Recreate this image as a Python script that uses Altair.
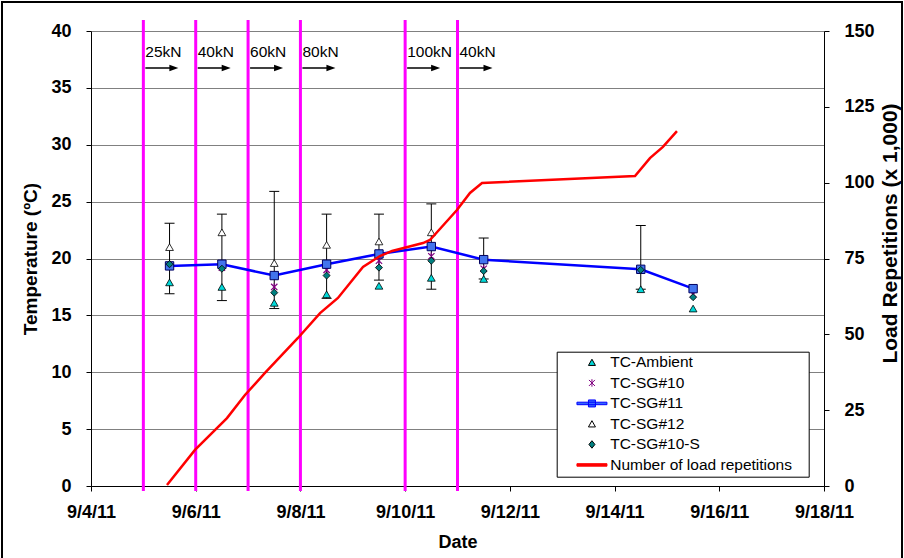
import altair as alt
import pandas as pd

# ---------------- data ----------------
obs_dates = ["2011-09-05T12:00", "2011-09-06T12:00", "2011-09-07T12:00", "2011-09-08T12:00",
             "2011-09-09T12:00", "2011-09-10T12:00", "2011-09-11T12:00", "2011-09-14T12:00",
             "2011-09-15T12:00"]
tc_ambient = [17.9, 17.5, 16.1, 16.85, 17.6, 18.3, 18.2, 17.3, 15.6]
tc_sg10 = [None, 19.2, 17.5, 19.0, 19.8, 20.2, 19.1, None, 16.85]
tc_sg11 = [19.35, 19.5, 18.5, 19.5, 20.4, 21.05, 19.9, 19.05, 17.35]
tc_sg12 = [21.0, 22.3, 19.6, 21.2, 21.5, 22.3, None, None, None]
tc_sg10s = [19.5, 19.1, 17.0, 18.5, 19.2, 19.8, 18.9, 19.0, 16.6]
err_hi = [23.1, 23.9, 25.9, 23.9, 23.9, 24.8, 21.8, 22.9, None]
err_lo = [16.9, 16.3, 15.6, 16.5, 18.1, 17.3, 18.2, 17.3, None]

load_dates = ["2011-09-05T10:50", "2011-09-05T23:40", "2011-09-06T14:20", "2011-09-06T22:35",
              "2011-09-07T07:45", "2011-09-07T22:52", "2011-09-08T09:00", "2011-09-08T17:12",
              "2011-09-09T04:40", "2011-09-09T12:27", "2011-09-09T18:00", "2011-09-10T08:11",
              "2011-09-10T11:23", "2011-09-10T23:45", "2011-09-11T05:43", "2011-09-11T11:14",
              "2011-09-14T09:22", "2011-09-14T16:13", "2011-09-14T22:10", "2011-09-15T04:36"]
load_reps = [0.3, 11.9, 22.4, 30.0, 37.3, 48.8, 57.0, 62.0, 72.2, 75.8, 77.5, 80.1,
             81.1, 91.0, 96.6, 99.9, 102.2, 108.1, 111.8, 117.0]

change_dates = ["2011-09-05T00:00", "2011-09-06T00:00", "2011-09-07T00:00",
                "2011-09-08T00:00", "2011-09-10T00:00", "2011-09-11T00:00"]
change_labels = ["25kN", "40kN", "60kN", "80kN", "100kN", "40kN"]

series_names = ["TC-Ambient", "TC-SG#10", "TC-SG#11", "TC-SG#12", "TC-SG#10-S",
                "Number of load repetitions"]

# ---------------- tables ----------------
series_values = {"TC-Ambient": tc_ambient, "TC-SG#10": tc_sg10, "TC-SG#11": tc_sg11,
                 "TC-SG#12": tc_sg12, "TC-SG#10-S": tc_sg10s}
rows = []
for name, vals in series_values.items():
    for d, v in zip(obs_dates, vals):
        if v is not None:
            rows.append({"series": name, "date": d, "temp": v})
pts = pd.DataFrame(rows)
err = pd.DataFrame({"date": obs_dates, "hi": err_hi, "lo": err_lo}).dropna()
load = pd.DataFrame({"date": load_dates, "load": load_reps})
chg = pd.DataFrame({"date": change_dates, "label": change_labels})

FONT = "Liberation Sans"
xscale = alt.Scale(domain=[alt.DateTime(year=2011, month=9, date=4),
                           alt.DateTime(year=2011, month=9, date=18)])
xaxis = alt.Axis(values=[alt.DateTime(year=2011, month=9, date=d) for d in range(4, 19, 2)],
                 format="%-m/%-d/%y", grid=False, tickSize=5, labelPadding=12,
                 titlePadding=12, labelFlush=False, titleFontSize=18)
tscale = alt.Scale(domain=[0, 40], nice=False)
taxis = alt.Axis(values=list(range(0, 41, 5)), grid=True, tickSize=5, labelPadding=15,
                 titlePadding=10, titleFontSize=19)
TT = "Temperature (ºC)"


def X(field="date"):
    return alt.X(f"{field}:T", scale=xscale, axis=xaxis, title="Date")


def Y(field):
    return alt.Y(f"{field}:Q", scale=tscale, axis=taxis, title=TT)


def series_layer(name, **mark):
    return alt.Chart(pts).transform_filter(alt.datum.series == name).mark_point(**mark).encode(
        x=X(), y=Y("temp"))


magenta = alt.Chart(chg).mark_rule(color="#FF00FF", strokeWidth=3).encode(
    x=X(), y=alt.value(-11), y2=alt.value(460))

ebar = alt.Chart(err).mark_rule(color="black", strokeWidth=1).encode(
    x=X(), y=Y("lo"), y2="hi:Q")
cap_hi = alt.Chart(err).mark_point(shape="M-1,0L1,0", size=100, color="black",
                                   strokeWidth=1, opacity=1).encode(x=X(), y=Y("hi"))
cap_lo = alt.Chart(err).mark_point(shape="M-1,0L1,0", size=100, color="black",
                                   strokeWidth=1, opacity=1).encode(x=X(), y=Y("lo"))

amb = series_layer("TC-Ambient", shape="triangle-up", size=60, fill="#00D8D8",
                   stroke="black", strokeWidth=0.8, opacity=1, fillOpacity=1)
sg10 = series_layer("TC-SG#10", shape="M-1,-1L1,1M-1,1L1,-1M0,-1.2L0,1.2", size=40,
                    stroke="#800080", strokeWidth=1.2, opacity=1)
sg11_line = alt.Chart(pts).transform_filter(alt.datum.series == "TC-SG#11").mark_line(
    color="#0000FF", strokeWidth=2.5).encode(x=X(), y=Y("temp"))
sg11 = series_layer("TC-SG#11", shape="square", size=70, fill="#4274EE", stroke="#000060",
                    strokeWidth=1, opacity=1, fillOpacity=1)
sg12 = series_layer("TC-SG#12", shape="triangle-up", size=60, fill="white", stroke="black",
                    strokeWidth=0.8, opacity=1, fillOpacity=1)
sg10s = series_layer("TC-SG#10-S", shape="diamond", size=50, fill="#008080", stroke="black",
                     strokeWidth=0.8, opacity=1, fillOpacity=1)

ann_text = alt.Chart(chg).mark_text(align="left", baseline="middle", dx=2, font=FONT,
                                    fontSize=15.5, color="black").encode(
    x=X(), y=alt.value(21), text="label:N")
ann_shaft = alt.Chart(chg).mark_rule(color="black", strokeWidth=1.5, xOffset=2,
                                     x2Offset=27).encode(
    x=X(), x2="date:T", y=alt.value(37))
ann_head = alt.Chart(chg).mark_point(shape="M1,0L-1,-0.7L-1,0.7Z", size=81, filled=True,
                                     color="black", opacity=1, xOffset=30.5).encode(
    x=X(), y=alt.value(37))

# legend (built from scales, no data drawn)
S = 4.9
legend_shapes = [
    f"M{S},-0.65L{S + 0.7},0.6L{S - 0.7},0.6Z",
    f"M{S - 0.6},-0.6L{S + 0.6},0.6M{S - 0.6},0.6L{S + 0.6},-0.6M{S},-0.75L{S},0.75",
    f"M{S - 3},-0.25H{S + 3}V0.25H{S - 3}ZM{S - 0.7},-0.7H{S + 0.7}V0.7H{S - 0.7}Z",
    f"M{S},-0.65L{S + 0.7},0.6L{S - 0.7},0.6Z",
    f"M{S},-0.75L{S + 0.6},0L{S},0.75L{S - 0.6},0Z",
    f"M{S - 3},-0.25H{S + 3}V0.25H{S - 3}Z",
]
legend_fills = ["#00D8D8", "#800080", "#3366FF", "white", "#008080", "#FF0000"]
legend_strokes = ["black", "#800080", "#0000FF", "black", "black", "#FF0000"]

leg = alt.Legend(title=None, orient="none", legendX=465.7, legendY=320.7, fillColor="white",
                 strokeColor="black", padding=3, labelFont=FONT, labelFontSize=15.5,
                 labelColor="black", labelOffset=35, rowPadding=3.5, symbolSize=100,
                 symbolStrokeWidth=1, labelLimit=400,
                 labelExpr="datum.label + '\u00a0\u00a0\u00a0\u200b'")
legend_layer = alt.Chart(pts).transform_filter("false").mark_point(size=100, opacity=1).encode(
    shape=alt.Shape("series:N", scale=alt.Scale(domain=series_names, range=legend_shapes),
                    legend=leg),
    fill=alt.Fill("series:N", scale=alt.Scale(domain=series_names, range=legend_fills),
                  legend=leg),
    stroke=alt.Stroke("series:N", scale=alt.Scale(domain=series_names, range=legend_strokes),
                      legend=leg),
)

left = alt.layer(magenta, ebar, cap_hi, cap_lo, amb, sg10, sg11_line, sg11, sg12, sg10s,
                 ann_shaft, ann_head, ann_text, legend_layer)

right = alt.Chart(load).mark_line(color="#FF0000", strokeWidth=2.5).encode(
    x=X(),
    y=alt.Y("load:Q", scale=alt.Scale(domain=[0, 150], nice=False),
            axis=alt.Axis(orient="right", values=list(range(0, 151, 25)), grid=False,
                          tickSize=5, labelPadding=15, titlePadding=5, titleAngle=270,
                          titleBaseline="top", titleFontSize=21, titleY=202),
            title="Load Repetitions (x 1,000)"))

frame = alt.Chart(load).mark_rect(filled=False, stroke="black", strokeWidth=2).encode(
    x=alt.value(-89), x2=alt.value(811), y=alt.value(-29), y2=alt.value(540))

chart = alt.layer(left, right, frame).resolve_scale(y="independent").properties(
    width=733, height=455,
    autosize=alt.AutoSizeParams(type="none"),
    padding={"left": 91, "top": 31, "right": 80, "bottom": 72},
).configure_view(stroke=None).configure_axis(
    domainColor="black", tickColor="black", labelColor="black", titleColor="black",
    labelFont=FONT, labelFontWeight="bold", labelFontSize=18,
    titleFont=FONT, titleFontWeight="bold", titleFontSize=18,
    gridColor="#808080", gridOpacity=1, gridWidth=1, domainWidth=1, tickWidth=1,
)

chart.save("out.html", embed_options={"renderer": "svg", "actions": False})
